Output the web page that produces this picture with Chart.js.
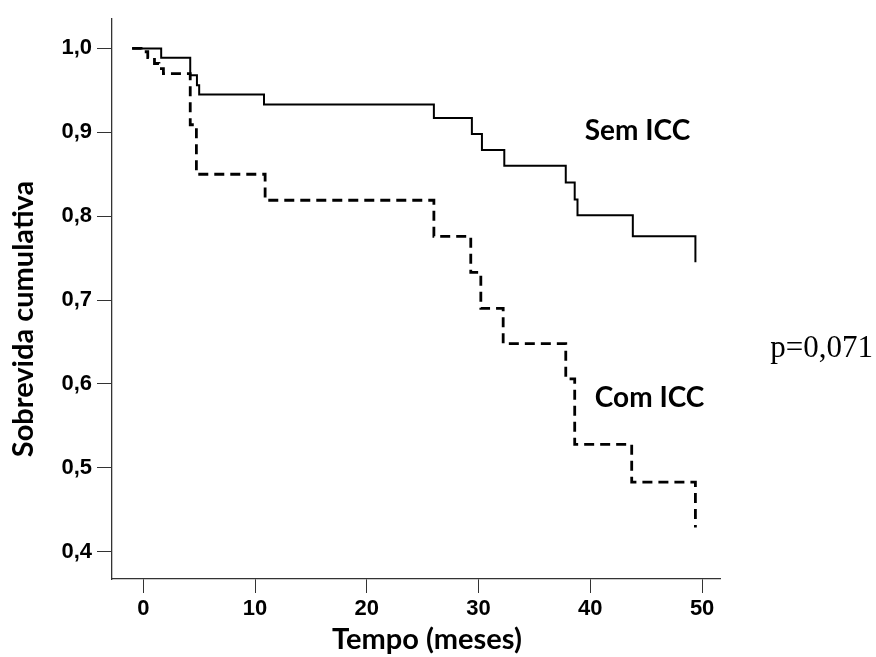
<!DOCTYPE html>
<html>
<head>
<meta charset="utf-8">
<script src="https://cdn.jsdelivr.net/npm/chart.js@4.4.0/dist/chart.umd.min.js"></script>
<style>
  html, body { margin: 0; padding: 0; background: #fff; }
  #wrap { width: 876px; height: 657px; }
</style>
</head>
<body>
<div id="wrap"><canvas id="c" width="876" height="657"></canvas></div>
<script>
// Tempo (meses) for each step of the Kaplan-Meier curves
const semTime = [-1, 1.6, 4.2, 4.8, 5.0, 10.8, 26.0, 29.4, 30.3, 32.3, 37.8, 38.6, 38.85, 43.8, 49.4];
const semSurv = [1.0, 0.989, 0.968, 0.956, 0.945, 0.933, 0.917, 0.898, 0.879, 0.860, 0.840, 0.820, 0.801, 0.776, 0.745];

const comTime = [-1, -0.2, 0.4, 1.0, 1.4, 1.8, 4.2, 4.75, 10.9, 26.0, 29.3, 30.2, 32.2, 37.8, 38.6, 43.7, 49.4];
const comSurv = [1.0, 0.996, 0.989, 0.982, 0.976, 0.970, 0.909, 0.850, 0.819, 0.776, 0.733, 0.690, 0.648, 0.606, 0.528, 0.483, 0.429];

const xTicks = [0, 10, 20, 30, 40, 50];
const yTicks = [0.4, 0.5, 0.6, 0.7, 0.8, 0.9, 1.0];

const seriesLabels = ['Sem ICC', 'Com ICC'];
const pValueText = 'p=0,071';
const xTitle = 'Tempo (meses)';
const yTitle = 'Sobrevida cumulativa';

// annotation anchors in data units
const labelPos = [
  { text: 'Sem ICC', x: 39.5, y: 0.891, font: 'bold 28px Lato' },
  { text: 'Com ICC', x: 40.4, y: 0.573, font: 'bold 28px Lato' },
  { text: pValueText, x: 56.1, y: 0.632, font: '31px "Liberation Serif", "Times New Roman", serif' }
];

const toPts = (t, s) => t.map((v, i) => ({ x: v, y: s[i] }));

const tickFont = { family: "'Liberation Sans Narrow', 'Liberation Sans', Arial, sans-serif", size: 22, weight: 'bold' };
const titleFont = 'bold 29px Lato';

const labelsPlugin = {
  id: 'labelsPlugin',
  afterDraw(chart) {
    const ctx = chart.ctx;
    const xs = chart.scales.x, ys = chart.scales.y;
    ctx.save();
    ctx.fillStyle = '#000';
    ctx.textAlign = 'left';
    ctx.textBaseline = 'alphabetic';
    labelPos.forEach(l => {
      ctx.font = l.font;
      ctx.fillText(l.text, xs.getPixelForValue(l.x), ys.getPixelForValue(l.y));
    });
    // axis titles
    ctx.font = titleFont;
    ctx.textAlign = 'center';
    ctx.textBaseline = 'middle';
    ctx.fillText(xTitle, 427, 640);
    ctx.translate(24, 319);
    ctx.rotate(-Math.PI / 2);
    ctx.fillText(yTitle, 0, 0);
    ctx.restore();
  }
};

new Chart(document.getElementById('c'), {
  type: 'line',
  data: {
    datasets: [
      {
        label: seriesLabels[0],
        data: toPts(semTime, semSurv),
        borderColor: '#000',
        borderWidth: 2,
        stepped: true,
        pointRadius: 0,
        fill: false
      },
      {
        label: seriesLabels[1],
        data: toPts(comTime, comSurv),
        borderColor: '#000',
        borderWidth: 2.8,
        borderDash: [10, 6],
        stepped: true,
        pointRadius: 0,
        fill: false
      }
    ]
  },
  options: {
    responsive: false,
    animation: false,
    devicePixelRatio: 1,
    layout: { padding: { left: 0, top: 12, right: 156, bottom: 0 } },
    plugins: { legend: { display: false }, tooltip: { enabled: false } },
    scales: {
      x: {
        type: 'linear',
        min: -2.8,
        max: 51.6,
        afterFit(scale) { scale.height = 78; },
        afterBuildTicks(scale) { scale.ticks = xTicks.map(v => ({ value: v })); },
        ticks: { color: '#000', font: tickFont, padding: 3, includeBounds: false, maxRotation: 0 },
        grid: { drawOnChartArea: false, drawTicks: true, tickLength: 14, color: '#333', lineWidth: 1 },
        border: { display: true, color: '#333', width: 1.3 }
      },
      y: {
        type: 'linear',
        min: 0.3675,
        max: 1.036,
        afterFit(scale) { scale.width = 112; },
        afterBuildTicks(scale) { scale.ticks = yTicks.map(v => ({ value: v })); },
        ticks: {
          color: '#000', font: tickFont, padding: 5, includeBounds: false,
          callback: v => Number(v).toFixed(1).replace('.', ',')
        },
        grid: { drawOnChartArea: false, drawTicks: true, tickLength: 15, color: '#333', lineWidth: 1 },
        border: { display: true, color: '#333', width: 1.3 }
      }
    }
  },
  plugins: [labelsPlugin]
});
</script>
</body>
</html>
